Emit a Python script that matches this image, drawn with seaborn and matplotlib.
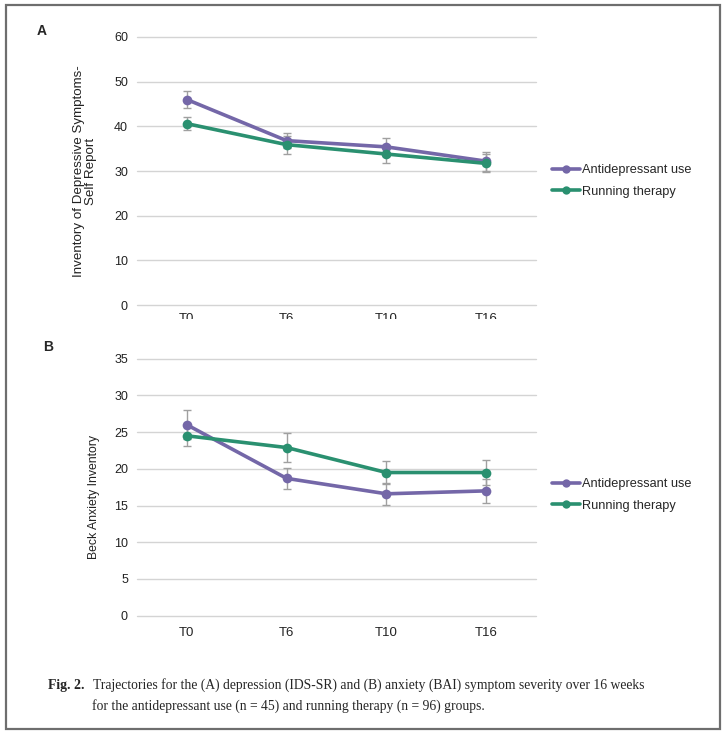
import numpy as np
import pandas as pd
import matplotlib
matplotlib.use("Agg")
import matplotlib.pyplot as plt
import seaborn as sns
from matplotlib.patches import Rectangle
from matplotlib.lines import Line2D

# ---- data ----
time_points = ["T0", "T6", "T10", "T16"]
groups = ["Antidepressant use", "Running therapy"]

ids_antidep = [46.0, 36.8, 35.4, 32.2]
ids_antidep_err = [1.9, 1.7, 2.0, 2.1]
ids_running = [40.6, 35.9, 33.8, 31.7]
ids_running_err = [1.5, 2.0, 2.1, 2.0]

bai_antidep = [26.0, 18.7, 16.6, 17.0]
bai_antidep_err = [2.0, 1.4, 1.5, 1.6]
bai_running = [24.5, 22.9, 19.5, 19.5]
bai_running_err = [1.4, 2.0, 1.6, 1.7]

colors = {"Antidepressant use": "#7467a8", "Running therapy": "#2a9070"}

W, H = 723, 734


def fx(x):
    return x / W


def fy(y):
    return 1 - y / H


def long_table(ad, ad_err, rt, rt_err):
    rows = []
    for g, vals, errs in [(groups[0], ad, ad_err), (groups[1], rt, rt_err)]:
        for t, v, e in zip(time_points, vals, errs):
            rows.append({"time": t, "group": g, "score": v, "err": e})
    return pd.DataFrame(rows)


sns.set_theme(style="white")
plt.rcParams["font.family"] = ["Liberation Sans", "DejaVu Sans"]

fig = plt.figure(figsize=(W / 100, H / 100), dpi=100)
fig.patch.set_facecolor("white")

ax_a = fig.add_axes([fx(137), fy(305), 399 / W, 268 / H])
ax_b = fig.add_axes([fx(137), fy(615.7), 399 / W, 257 / H])

# (axes, data, ymax, step, ylabel, label size, label pos, letter, letter pos, legend y)
panels = [
    (ax_a, long_table(ids_antidep, ids_antidep_err, ids_running, ids_running_err),
     60, 10, "Inventory of Depressive Symptoms-\nSelf Report", 9.6, (97, 171),
     "A", (42, 31), 181),
    (ax_b, long_table(bai_antidep, bai_antidep_err, bai_running, bai_running_err),
     35, 5, "Beck Anxiety Inventory", 8.8, (100, 497),
     "B", (48, 347), 495),
]

for ax, df, ymax, step, ylabel, lab_size, ylab_xy, letter, letter_xy, leg_y in panels:
    sns.lineplot(data=df, x="time", y="score", hue="group", palette=colors,
                 marker="o", markersize=7, markeredgewidth=0, linewidth=2.6,
                 ax=ax, legend=False, sort=False)
    for g in groups:
        sub = df[df["group"] == g]
        ax.errorbar(np.arange(len(sub)), sub["score"], yerr=sub["err"], fmt="none",
                    ecolor="#a0a0a0", elinewidth=1.0, capsize=3, capthick=1.0, zorder=1)

    ax.set_xlim(-0.5, len(time_points) - 0.5)
    ax.set_ylim(0, ymax)
    ax.set_yticks(np.arange(0, ymax + 1, step))
    ax.yaxis.grid(True, color="#d4d4d4", linewidth=1.0)
    ax.xaxis.grid(False)
    ax.set_axisbelow(True)
    for gl in ax.get_ygridlines():
        gl.set_clip_on(False)
    for s in ax.spines.values():
        s.set_visible(False)
    ax.tick_params(axis="y", length=0, pad=6.5, labelsize=9, labelcolor="#222222")
    ax.tick_params(axis="x", length=0, pad=6 if letter == "A" else 8, labelsize=9.5,
                   labelcolor="#222222")
    ax.set_xlabel("")
    ax.set_ylabel(ylabel, fontsize=lab_size, color="#222222", linespacing=1.0)
    ax.yaxis.set_label_coords(fx(ylab_xy[0]), fy(ylab_xy[1]), transform=fig.transFigure)

    fig.text(fx(letter_xy[0]), fy(letter_xy[1]), letter, fontsize=10, fontweight="bold",
             ha="center", va="center")

    handles = [Line2D([0], [0], color=colors[g], linewidth=2.6, marker="o",
                      markersize=6, markeredgewidth=0) for g in groups]
    fig.legend(handles, groups, loc="center left",
               bbox_to_anchor=(fx(552), fy(leg_y)), frameon=False,
               prop={"size": 9.2},
               handlelength=2.2, handletextpad=0.15, labelspacing=0.75,
               borderpad=0, borderaxespad=0)

# the top panel's tick labels are cut off in the source image
fig.patches.append(Rectangle((fx(120), fy(338)), fx(440) - fx(0), 19 / H,
                             transform=fig.transFigure, facecolor="white",
                             edgecolor="none", zorder=5))

# caption
cap_font = ["Liberation Serif", "DejaVu Serif"]
fig.text(fx(48), fy(685), "Fig. 2.", fontsize=9.9, fontweight="bold",
         family=cap_font, va="center")
fig.text(fx(93), fy(685),
         "Trajectories for the (A) depression (IDS-SR) and (B) anxiety (BAI) symptom severity over 16 weeks",
         fontsize=9.8, family=cap_font, va="center")
fig.text(fx(92), fy(706),
         "for the antidepressant use (n = 45) and running therapy (n = 96) groups.",
         fontsize=9.8, family=cap_font, va="center")

# outer frame
fig.patches.append(Rectangle((fx(6), fy(729)), fx(720) - fx(6), (729 - 5) / H,
                             transform=fig.transFigure, facecolor="none",
                             edgecolor="#6e6e6e", linewidth=1.6, zorder=6))

fig.savefig("out.png", dpi=100)
